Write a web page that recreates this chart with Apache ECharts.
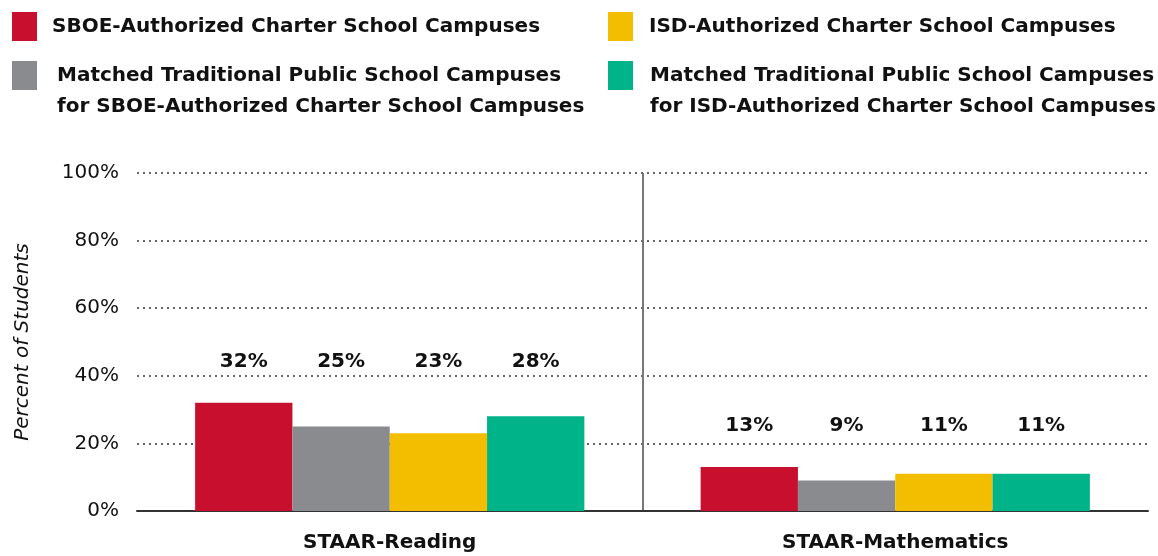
<!DOCTYPE html>
<html>
<head>
<meta charset="utf-8">
<script src="https://cdn.jsdelivr.net/npm/echarts@6/dist/echarts.min.js"></script>
<style>
html, body { margin: 0; padding: 0; background: #fff; }
#chart { width: 1158px; height: 556px; }
</style>
</head>
<body>
<div id="chart"></div>
<script>
const categories = ['STAAR-Reading', 'STAAR-Mathematics']
const seriesNames = [
  'SBOE-Authorized Charter School Campuses',
  'Matched Traditional Public School Campuses\nfor SBOE-Authorized Charter School Campuses',
  'ISD-Authorized Charter School Campuses',
  'Matched Traditional Public School Campuses\nfor ISD-Authorized Charter School Campuses'
]
const sboeCharter = [32, 13]
const sboeMatched = [25, 9]
const isdCharter = [23, 11]
const isdMatched = [28, 11]
const yTicks = [0, 20, 40, 60, 80, 100]

const colors = ['#c8102e', '#898b8e', '#f3be00', '#00b388']
const seriesValues = [sboeCharter, sboeMatched, isdCharter, isdMatched]
const font = 'DejaVu Sans'

const chart = echarts.init(document.getElementById('chart'))

const legendBase = {
  orient: 'vertical',
  padding: 0,
  icon: 'rect',
  itemWidth: 25,
  itemHeight: 29,
  selectedMode: false
}
const legendText = (padLeft, lineHeight) => ({
  fontFamily: font,
  fontWeight: 'bold',
  fontSize: 20,
  color: '#111',
  lineHeight,
  padding: [0, 0, 0, padLeft]
})
// leading blank line so the swatch lines up with the first text line
const topAligned = (name) => '\n' + name

const buildSeries = (k) => {
  // labels in a group sit at the same height, above the tallest bar
  const groupMax = categories.map((c, i) => Math.max(...seriesValues.map(s => s[i])))
  return seriesNames.map((name, si) => ({
    name,
    type: 'bar',
    barGap: 0,
    barCategoryGap: '23%',
    itemStyle: { color: colors[si] },
    label: {
      show: true,
      position: 'top',
      formatter: '{c}%',
      fontFamily: font,
      fontWeight: 'bold',
      fontSize: 20,
      color: '#111'
    },
    data: seriesValues[si].map((v, i) => ({
      value: v,
      label: { distance: 31 + (groupMax[i] - v) * k }
    }))
  }))
}

const option = {
  animation: false,
  legend: [
    Object.assign({}, legendBase, { data: [seriesNames[0]], left: 12, top: 12, textStyle: legendText(10, 24) }),
    Object.assign({}, legendBase, { data: [seriesNames[1]], left: 12, top: 29, textStyle: legendText(15, 31), formatter: topAligned }),
    Object.assign({}, legendBase, { data: [seriesNames[2]], left: 608, top: 12, textStyle: legendText(11, 24) }),
    Object.assign({}, legendBase, { data: [seriesNames[3]], left: 608, top: 29, textStyle: legendText(12, 31), formatter: topAligned })
  ],
  grid: { left: 137, right: 10, top: 173, bottom: 45 },
  xAxis: {
    type: 'category',
    data: categories,
    axisTick: { show: false },
    axisLine: { lineStyle: { color: '#333', width: 2 } },
    axisLabel: {
      margin: 22,
      fontFamily: font,
      fontWeight: 'bold',
      fontSize: 20,
      color: '#111'
    },
    splitLine: {
      show: true,
      showMinLine: false,
      showMaxLine: false,
      lineStyle: { color: '#777', width: 2 }
    }
  },
  yAxis: {
    type: 'value',
    min: yTicks[0],
    max: yTicks[yTicks.length - 1],
    interval: yTicks[1] - yTicks[0],
    name: 'Percent of Students',
    nameLocation: 'middle',
    nameGap: 104,
    nameTextStyle: { fontFamily: font, fontStyle: 'italic', fontSize: 20, color: '#111' },
    axisLine: { show: false },
    axisTick: { show: false },
    axisLabel: {
      margin: 18,
      formatter: '{value}%',
      fontFamily: font,
      fontSize: 20,
      color: '#111'
    },
    splitLine: { lineStyle: { color: '#333', width: 1.5, type: [2, 4] } }
  },
  series: buildSeries(0)
}

chart.setOption(option)
const pxPerUnit = chart.convertToPixel({ yAxisIndex: 0 }, 0) - chart.convertToPixel({ yAxisIndex: 0 }, 1)
chart.setOption({ series: buildSeries(pxPerUnit) })
</script>
</body>
</html>
